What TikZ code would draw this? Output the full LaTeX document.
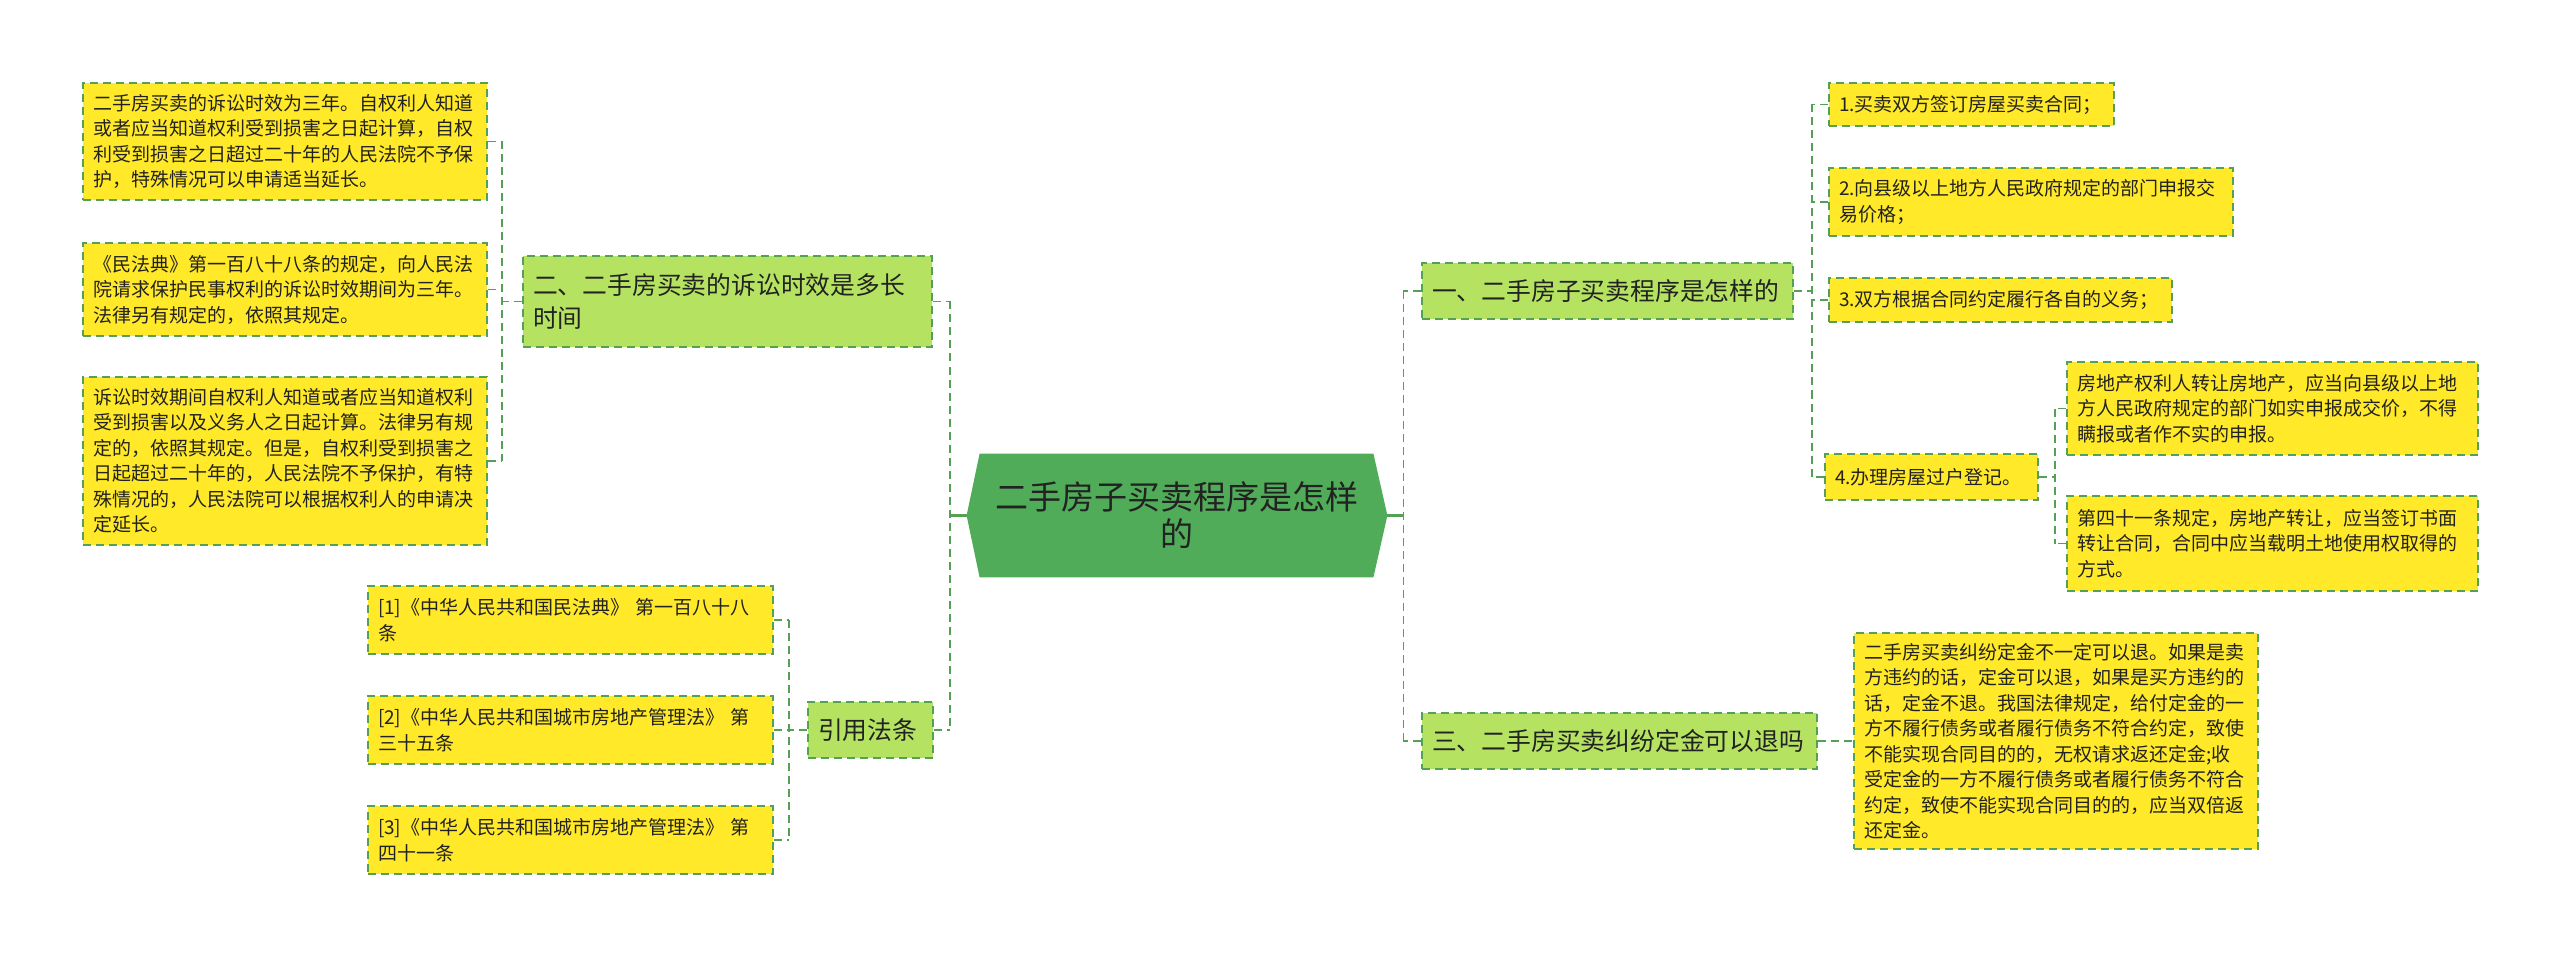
\documentclass[tikz,border=0pt]{standalone}
\usepackage{fontspec}
\setmainfont{Noto Sans CJK SC}
\usetikzlibrary{backgrounds}
\definecolor{rootgreen}{RGB}{80,172,89}
\definecolor{topicgreen}{RGB}{181,227,97}
\definecolor{leafyellow}{RGB}{255,233,40}
\definecolor{linegreen}{RGB}{84,160,84}
\definecolor{inkdark}{RGB}{34,34,34}

\begin{document}
\begin{tikzpicture}[x=0.5pt, y=-0.5pt,
  link/.style={draw=linegreen, line width=0.9pt, dash pattern=on 4pt off 2.5pt},
  rootlink/.style={draw=linegreen, line width=1.4pt},
  box/.style={draw=linegreen, line width=0.9pt, dash pattern=on 4pt off 2.5pt, text=inkdark, align=left, inner xsep=5pt, inner ysep=1pt},
  leaf/.style={box, fill=leafyellow, font=\fontsize{9.5}{12.75}\selectfont},
  topic/.style={box, fill=topicgreen, font=\fontsize{12.4}{16.5}\selectfont}]
\useasboundingbox (0,0) rectangle (2560,957);
% centre
\node[text=inkdark, align=center, text width=200pt, minimum width=210pt, minimum height=61.5pt, font=\fontsize{16.5}{18.5}\selectfont] (root) at (1177,515.5) {二手房子买卖程序是怎样\\的};
\begin{scope}[on background layer]
\fill[rootgreen] ([xshift=6.5pt]root.north west) -- ([xshift=-7pt]root.north east) -- (root.east) -- ([xshift=-7pt]root.south east) -- ([xshift=6.5pt]root.south west) -- (root.west) -- cycle;
\end{scope}
% left branch
\node[topic, text width=194.5pt, minimum height=45.5pt] (L1) at (727.5,301.5) {二、二手房买卖的诉讼时效是多长\\时间};
\node[leaf, text width=192pt, minimum height=58.5pt] (la) at (285,141.5) {二手房买卖的诉讼时效为三年。自权利人知道\\或者应当知道权利受到损害之日起计算，自权\\利受到损害之日超过二十年的人民法院不予保\\护，特殊情况可以申请适当延长。};
\node[leaf, text width=192pt, minimum height=46.5pt] (lb) at (285,289.5) {《民法典》第一百八十八条的规定，向人民法\\院请求保护民事权利的诉讼时效期间为三年。\\法律另有规定的，依照其规定。};
\node[leaf, text width=192pt, minimum height=84pt] (lc) at (285,461) {诉讼时效期间自权利人知道或者应当知道权利\\受到损害以及义务人之日起计算。法律另有规\\定的，依照其规定。但是，自权利受到损害之\\日起超过二十年的，人民法院不予保护，有特\\殊情况的，人民法院可以根据权利人的申请决\\定延长。};
\node[topic, text width=52.5pt, minimum height=28pt] (cite) at (870.5,730) {引用法条};
\node[leaf, text width=192.5pt, minimum height=34pt] (r1) at (570.5,620) {[1]《中华人民共和国民法典》 第一百八十八\\条};
\node[leaf, text width=192.5pt, minimum height=34pt] (r2) at (570.5,730) {[2]《中华人民共和国城市房地产管理法》 第\\三十五条};
\node[leaf, text width=192.5pt, minimum height=34pt] (r3) at (570.5,840) {[3]《中华人民共和国城市房地产管理法》 第\\四十一条};
% right branch
\node[topic, text width=175.5pt, minimum height=28pt] (R1) at (1607.5,291) {一、二手房子买卖程序是怎样的};
\node[leaf, text width=132.5pt, minimum height=21.5pt] (p1) at (1971.5,104.5) {1.买卖双方签订房屋买卖合同；};
\node[leaf, text width=192pt, minimum height=34pt] (p2) at (2031,202) {2.向县级以上地方人民政府规定的部门申报交\\易价格；};
\node[leaf, text width=161.5pt, minimum height=22pt] (p3) at (2000.5,300) {3.双方根据合同约定履行各自的义务；};
\node[leaf, text width=96.5pt, minimum height=23pt] (p4) at (1931.5,477) {4.办理房屋过户登记。};
\node[leaf, text width=195.5pt, minimum height=46.5pt] (pa) at (2272.5,408.5) {房地产权利人转让房地产，应当向县级以上地\\方人民政府规定的部门如实申报成交价，不得\\瞒报或者作不实的申报。};
\node[leaf, text width=195.5pt, minimum height=47.5pt] (pb) at (2272.5,543.5) {第四十一条规定，房地产转让，应当签订书面\\转让合同，合同中应当载明土地使用权取得的\\方式。};
\node[topic, text width=187.5pt, minimum height=28pt] (R3) at (1619.5,741) {三、二手房买卖纠纷定金可以退吗};
\node[leaf, text width=192pt, minimum height=108pt] (big) at (2056,741) {二手房买卖纠纷定金不一定可以退。如果是卖\\方违约的话，定金可以退，如果是买方违约的\\话，定金不退。我国法律规定，给付定金的一\\方不履行债务或者履行债务不符合约定，致使\\不能实现合同目的的，无权请求返还定金;收\\受定金的一方不履行债务或者履行债务不符合\\约定，致使不能实现合同目的的，应当双倍返\\还定金。};
% connectors
\draw[rootlink] (root.west) -- ++(-17,0) coordinate (mtrL);
\draw[rootlink] (root.east) -- ++(16,0) coordinate (mtrR);
\draw[link] (L1.east -| mtrL) -- (cite.east -| mtrL);
\draw[link] (R1.west -| mtrR) -- (R3.west -| mtrR);
\foreach \n in {L1,cite} \draw[link] (\n.east) -- (\n.east -| mtrL);
\foreach \n in {R1,R3} \draw[link] (\n.west) -- (\n.west -| mtrR);
\draw[link] (L1.west) -- ++(-20,0) coordinate (ltr);
\draw[link] (la.east -| ltr) -- (lc.east -| ltr);
\foreach \n in {la,lb,lc} \draw[link] (\n.east) -- (\n.east -| ltr);
\draw[link] (cite.west) -- ++(-18,0) coordinate (ctr);
\draw[link] (r1.east -| ctr) -- (r3.east -| ctr);
\foreach \n in {r1,r2,r3} \draw[link] (\n.east) -- (\n.east -| ctr);
\draw[link] (R1.east) -- ++(18,0) coordinate (rtr);
\draw[link] (p1.west -| rtr) -- (p4.west -| rtr);
\foreach \n in {p1,p2,p3,p4} \draw[link] (\n.west) -- (\n.west -| rtr);
\draw[link] (p4.east) -- ++(16,0) coordinate (ptr);
\draw[link] (pa.west -| ptr) -- (pb.west -| ptr);
\foreach \n in {pa,pb} \draw[link] (\n.west) -- (\n.west -| ptr);
\draw[link] (R3.east) -- (big.west);
\end{tikzpicture}
\end{document}
